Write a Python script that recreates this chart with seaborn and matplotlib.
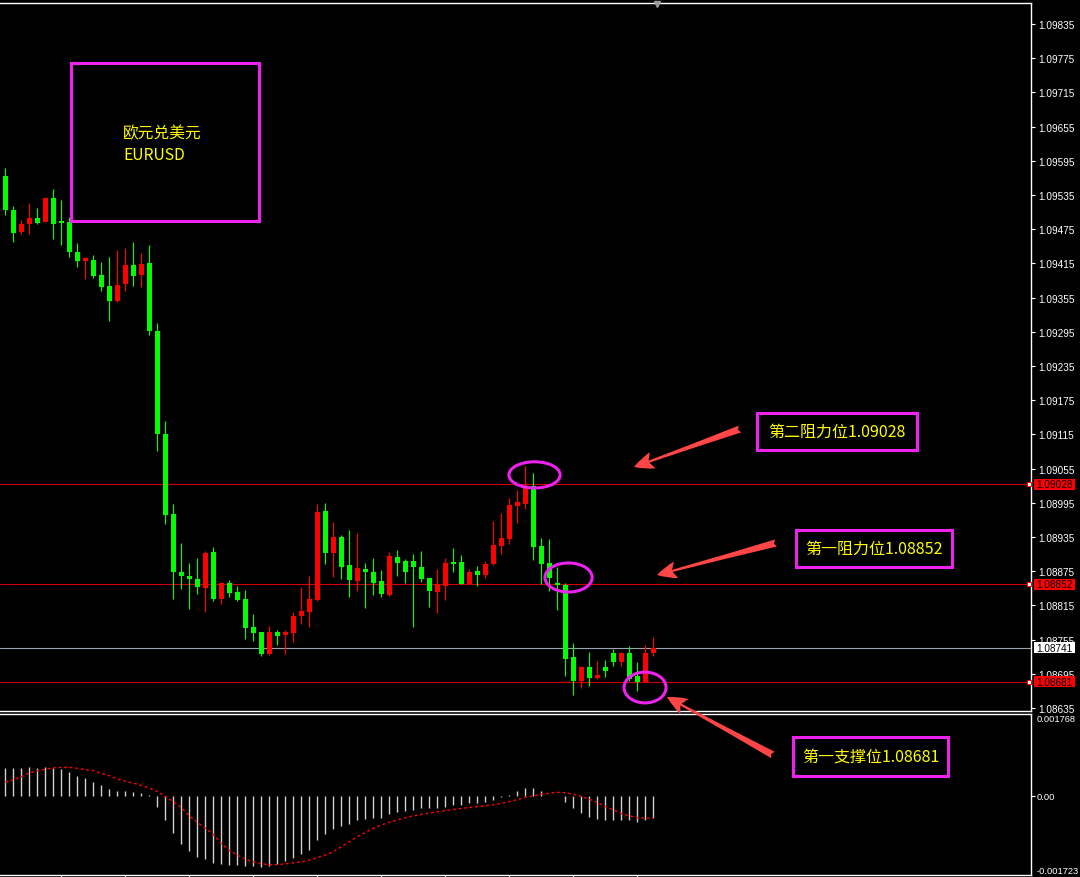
import numpy as np
import pandas as pd
import matplotlib
matplotlib.use("Agg")
import matplotlib.pyplot as plt
import matplotlib.transforms as mtransforms
from matplotlib.patches import Ellipse, Rectangle, FancyArrowPatch
import seaborn as sns

# ---- EURUSD candles (oldest -> newest) ----
opens = [1.09569, 1.09509, 1.09471, 1.09484, 1.09495, 1.09488, 1.09530, 1.09489, 1.09488, 1.09435,
         1.09420, 1.09421, 1.09395, 1.09375, 1.09349, 1.09379, 1.09412, 1.09395, 1.09416, 1.09296,
         1.09116, 1.08975, 1.08874, 1.08867, 1.08861, 1.08846, 1.08909, 1.08826, 1.08854, 1.08839,
         1.08826, 1.08777, 1.08768, 1.08730, 1.08768, 1.08763, 1.08767, 1.08796, 1.08803, 1.08824,
         1.08981, 1.08907, 1.08935, 1.08886, 1.08857, 1.08879, 1.08874, 1.08858, 1.08833, 1.08900,
         1.08893, 1.08893, 1.08882, 1.08863, 1.08839, 1.08849, 1.08892, 1.08891, 1.08853, 1.08875,
         1.08868, 1.08888, 1.08919, 1.08932, 1.08989, 1.08993, 1.09024, 1.08919, 1.08889, 1.08854,
         1.08851, 1.08724, 1.08682, 1.08707, 1.08688, 1.08707, 1.08732, 1.08716, 1.08732, 1.08691,
         1.08681, 1.08732]
highs = [1.09582, 1.09516, 1.09491, 1.09521, 1.09512, 1.09531, 1.09546, 1.09526, 1.09496, 1.09451,
         1.09426, 1.09430, 1.09417, 1.09426, 1.09439, 1.09442, 1.09453, 1.09433, 1.09447, 1.09310,
         1.09139, 1.08993, 1.08924, 1.08889, 1.08899, 1.08910, 1.08917, 1.08856, 1.08860, 1.08849,
         1.08842, 1.08800, 1.08768, 1.08779, 1.08772, 1.08772, 1.08803, 1.08847, 1.08867, 1.08993,
         1.08995, 1.08961, 1.08939, 1.08947, 1.08942, 1.08889, 1.08898, 1.08877, 1.08909, 1.08912,
         1.08896, 1.08905, 1.08910, 1.08863, 1.08879, 1.08898, 1.08916, 1.08903, 1.08879, 1.08884,
         1.08893, 1.08963, 1.08977, 1.09003, 1.09017, 1.09060, 1.09047, 1.08933, 1.08932, 1.08882,
         1.08854, 1.08749, 1.08709, 1.08733, 1.08717, 1.08719, 1.08739, 1.08733, 1.08744, 1.08716,
         1.08746, 1.08760]
lows = [1.09500, 1.09453, 1.09467, 1.09467, 1.09484, 1.09487, 1.09458, 1.09447, 1.09426, 1.09409,
        1.09388, 1.09389, 1.09367, 1.09314, 1.09348, 1.09367, 1.09375, 1.09374, 1.09289, 1.09086,
        1.08958, 1.08826, 1.08844, 1.08809, 1.08835, 1.08803, 1.08823, 1.08817, 1.08830, 1.08823,
        1.08756, 1.08753, 1.08726, 1.08728, 1.08746, 1.08730, 1.08751, 1.08782, 1.08777, 1.08823,
        1.08888, 1.08865, 1.08862, 1.08830, 1.08841, 1.08811, 1.08833, 1.08830, 1.08832, 1.08867,
        1.08854, 1.08777, 1.08856, 1.08812, 1.08802, 1.08824, 1.08874, 1.08852, 1.08852, 1.08849,
        1.08863, 1.08886, 1.08905, 1.08923, 1.08960, 1.08984, 1.08895, 1.08853, 1.08840, 1.08807,
        1.08691, 1.08658, 1.08670, 1.08674, 1.08686, 1.08689, 1.08709, 1.08709, 1.08683, 1.08665,
        1.08680, 1.08726]
closes = [1.09508, 1.09469, 1.09484, 1.09495, 1.09486, 1.09530, 1.09484, 1.09486, 1.09435, 1.09419,
          1.09424, 1.09393, 1.09374, 1.09349, 1.09377, 1.09412, 1.09393, 1.09414, 1.09296, 1.09116,
          1.08974, 1.08874, 1.08867, 1.08862, 1.08847, 1.08907, 1.08826, 1.08854, 1.08837, 1.08824,
          1.08775, 1.08767, 1.08730, 1.08768, 1.08761, 1.08768, 1.08796, 1.08805, 1.08826, 1.08979,
          1.08907, 1.08935, 1.08883, 1.08860, 1.08881, 1.08874, 1.08854, 1.08835, 1.08902, 1.08889,
          1.08874, 1.08882, 1.08861, 1.08840, 1.08853, 1.08889, 1.08888, 1.08853, 1.08874, 1.08868,
          1.08888, 1.08921, 1.08933, 1.08991, 1.08996, 1.09021, 1.08917, 1.08888, 1.08863, 1.08851,
          1.08721, 1.08682, 1.08707, 1.08688, 1.08693, 1.08700, 1.08716, 1.08732, 1.08686, 1.08681,
          1.08732, 1.08741]

# ---- MACD sub-window ----
macd_hist = [0.00060, 0.00060, 0.00060, 0.00062, 0.00060, 0.00062, 0.00060, 0.00057, 0.00051, 0.00042,
             0.00038, 0.00029, 0.00022, 0.00014, 0.00009, 0.00009, 0.00007, 0.00005, 0.00001, -0.00024,
             -0.00052, -0.00081, -0.00105, -0.00120, -0.00133, -0.00137, -0.00146, -0.00148, -0.00150, -0.00150,
             -0.00153, -0.00153, -0.00155, -0.00153, -0.00148, -0.00142, -0.00135, -0.00126, -0.00118, -0.00096,
             -0.00083, -0.00072, -0.00065, -0.00061, -0.00054, -0.00050, -0.00048, -0.00048, -0.00041, -0.00035,
             -0.00033, -0.00031, -0.00028, -0.00028, -0.00028, -0.00024, -0.00020, -0.00020, -0.00017, -0.00017,
             -0.00015, -0.00009, -0.00004, 0.00002, 0.00009, 0.00017, 0.00016, 0.00009, -0.00002, 0.00000,
             -0.00015, -0.00028, -0.00037, -0.00046, -0.00050, -0.00054, -0.00054, -0.00052, -0.00054, -0.00057,
             -0.00052, -0.00048]
macd_signal = [0.00029, 0.00034, 0.00041, 0.00049, 0.00054, 0.00057, 0.00060, 0.00061, 0.00061, 0.00059,
               0.00056, 0.00054, 0.00048, 0.00043, 0.00036, 0.00031, 0.00027, 0.00022, 0.00016, 0.00009,
               -0.00002, -0.00013, -0.00026, -0.00044, -0.00058, -0.00071, -0.00084, -0.00104, -0.00119, -0.00129,
               -0.00138, -0.00144, -0.00148, -0.00150, -0.00150, -0.00148, -0.00146, -0.00144, -0.00140, -0.00135,
               -0.00129, -0.00122, -0.00111, -0.00100, -0.00089, -0.00080, -0.00071, -0.00064, -0.00058, -0.00053,
               -0.00048, -0.00044, -0.00041, -0.00038, -0.00035, -0.00033, -0.00030, -0.00028, -0.00026, -0.00024,
               -0.00022, -0.00020, -0.00017, -0.00013, -0.00009, -0.00004, -0.00001, 0.00003, 0.00005, 0.00007,
               0.00006, 0.00003, -0.00002, -0.00008, -0.00015, -0.00024, -0.00031, -0.00039, -0.00044, -0.00048,
               -0.00049, -0.00049]
macd_range = [-0.001723, 0.001768]
macd_tick_labels = ["0.001768", "0.00", "-0.001723"]

# ---- price scale and marked levels ----
price_ticks = [1.09835, 1.09775, 1.09715, 1.09655, 1.09595, 1.09535, 1.09475, 1.09415, 1.09355,
               1.09295, 1.09235, 1.09175, 1.09115, 1.09055, 1.08995, 1.08935, 1.08875, 1.08815,
               1.08755, 1.08695, 1.08635]
price_range = [1.086298, 1.098719]
level_prices = [1.09028, 1.08852, 1.08681]
level_texts = ["第二阻力位1.09028", "第一阻力位1.08852", "第一支撑位1.08681"]
last_price = 1.08741
title_lines = ["欧元兑美元", "EURUSD"]

# highlighted spots: (candle position, price, width in candles, height in price)
circle_spots = [(66.15, 1.09044, 6.4, 0.00046),
                (70.4, 1.08864, 5.9, 0.00051),
                (79.96, 1.08671, 5.25, 0.00054)]

GREEN = "#00ff00"
RED = "#ff0000"
MAGENTA = "#ee22ee"
YELLOW = "#ffff00"
ARROW = "#ff4646"
SCALE_FONT = 7.2
MACD_FONT = 6.7

sns.set_style("dark", rc={"axes.facecolor": "black", "figure.facecolor": "black",
                          "axes.grid": False})
plt.rcParams["font.family"] = ["Noto Sans CJK SC", "DejaVu Sans"]

W, H = 1080, 878
fig = plt.figure(figsize=(W / 100, H / 100), dpi=100, facecolor="black")


def fig_rect(left, top, right, bottom):
    return [left / W, 1 - bottom / H, (right - left) / W, (bottom - top) / H]


def fx(x):
    return x / W


def fy(y):
    return 1 - y / H


ax = fig.add_axes(fig_rect(0, 4, 1031, 712))
ax2 = fig.add_axes(fig_rect(0, 715, 1031, 876))

df = pd.DataFrame({"open": opens, "high": highs, "low": lows, "close": closes})
df["pos"] = np.arange(len(df))
colors = np.where(df["close"] >= df["open"], RED, GREEN)

# wicks
ax.vlines(df["pos"], df["low"], df["high"], colors=colors, linewidth=0.85, zorder=3)
# bodies (dojis keep a one-pixel body)
min_h = 0.000018
raw_h = (df["close"] - df["open"]).abs()
mid = (df["close"] + df["open"]) / 2
body_h = np.maximum(raw_h, min_h)
body_bottom = np.where(raw_h < min_h, mid - min_h / 2, np.minimum(df["open"], df["close"]))
ax.bar(df["pos"], body_h, bottom=body_bottom, width=0.63, color=colors, linewidth=0, zorder=4)

xlim = (-0.66, 128.2)
ax.set_xlim(*xlim)
ax.set_ylim(*price_range)

# level lines
for p in level_prices:
    ax.axhline(p, color="#d40000", linewidth=0.8, zorder=2)
ax.axhline(last_price, color="#9aa4b0", linewidth=0.8, zorder=2)

# price axis on the right
ax.yaxis.tick_right()
ax.set_yticks(price_ticks)
ax.set_yticklabels([f"{t:.5f}" for t in price_ticks])
ax.tick_params(axis="y", colors="white", labelsize=SCALE_FONT, length=3, width=0.8, pad=2,
               direction="out", right=True, left=False)
for lab in ax.get_yticklabels():
    lab.set_fontfamily("Liberation Sans")
ax.set_xticks([])
for side in ["top", "right", "bottom"]:
    ax.spines[side].set_color("white")
    ax.spines[side].set_linewidth(1.0)
ax.spines["left"].set_visible(False)

# price tags on the scale
trans = mtransforms.blended_transform_factory(ax.transAxes, ax.transData)
tag_h = 11 / 57000
for p, face in [(level_prices[0], RED), (level_prices[1], RED), (level_prices[2], RED),
                (last_price, "white")]:
    ax.add_patch(Rectangle((1034 / 1031, p - tag_h / 2), 41 / 1031, tag_h, transform=trans,
                           facecolor=face, edgecolor="none", clip_on=False, zorder=6))
    ax.text(1054.5 / 1031, p, f"{p:.5f}", transform=trans, ha="center", va="center",
            fontsize=SCALE_FONT, color="black", family="Liberation Sans", clip_on=False, zorder=7)
for p in level_prices:
    ax.plot([1029 / 1031], [p], marker="s", markersize=3.3, markerfacecolor="white",
            markeredgecolor=RED, markeredgewidth=0.7, transform=trans, clip_on=False, zorder=7)

# chart shift marker at the top edge
shift_trans = mtransforms.blended_transform_factory(ax.transData, ax.transAxes)
ax.plot([81.46], [0.998], marker="v", markersize=5, color="#9a9a9a", transform=shift_trans,
        clip_on=False, zorder=8)

# highlighted turning points
for cx, cy, w, h in circle_spots:
    ax.add_patch(Ellipse((cx, cy), w, h, fill=False, edgecolor=MAGENTA, linewidth=2.2,
                         zorder=9, clip_on=False))

# ---- MACD panel ----
ax2.vlines(df["pos"], 0, macd_hist, colors="#d0d0d0", linewidth=1.0, zorder=3)
sns.lineplot(x=df["pos"], y=macd_signal, ax=ax2, color=RED, linewidth=1.0, zorder=4)
for line in ax2.get_lines():
    line.set_linestyle((0, (2, 2)))
ax2.set_xlim(*xlim)
ax2.set_ylim(*macd_range)
ax2.set_xlabel("")
ax2.set_ylabel("")
ax2.yaxis.tick_right()
ax2.set_yticks([macd_range[1], 0.0, macd_range[0]])
ax2.set_yticklabels(macd_tick_labels)
ax2.tick_params(axis="y", colors="white", labelsize=MACD_FONT, length=3, width=0.8, pad=1,
                direction="out", right=True, left=False)
ylabs = ax2.get_yticklabels()
for lab in ylabs:
    lab.set_fontfamily("Liberation Sans")
ylabs[0].set_verticalalignment("top")
ylabs[2].set_verticalalignment("bottom")
yticks = ax2.yaxis.get_major_ticks()
yticks[0].tick2line.set_visible(False)
yticks[2].tick2line.set_visible(False)
ax2.set_xticks(list(range(7, len(df), 8)))
ax2.set_xticklabels([])
ax2.tick_params(axis="x", colors="white", length=3, width=0.8, direction="out", bottom=True)
for side in ["top", "right", "bottom"]:
    ax2.spines[side].set_color("white")
    ax2.spines[side].set_linewidth(1.0)
ax2.spines["left"].set_visible(False)

# ---- title box ----
fig.add_artist(Rectangle((fx(71), fy(222)), fx(259) - fx(71), fy(64) - fy(222),
                         transform=fig.transFigure, fill=False, edgecolor=MAGENTA,
                         linewidth=2.2, zorder=10))
fig.text(fx(123), fy(134), title_lines[0], color=YELLOW, fontsize=11.3, ha="left", va="center")
fig.text(fx(123), fy(156), title_lines[1], color=YELLOW, fontsize=11.3, ha="left", va="center")

# ---- level call-outs with arrows ----
boxes = [(757, 414, 917, 451), (796, 531, 952, 568), (793, 738, 948, 777)]
arrows = [((740, 430), (634, 468)), ((776, 544), (657, 576)), ((773, 756), (667, 698))]
for (l, t, r, b), txt in zip(boxes, level_texts):
    fig.add_artist(Rectangle((fx(l), fy(b)), fx(r) - fx(l), fy(t) - fy(b),
                             transform=fig.transFigure, facecolor="black", edgecolor=MAGENTA,
                             linewidth=2.2, zorder=10))
    fig.text(fx((l + r) / 2), fy((t + b) / 2), txt, color=YELLOW, fontsize=11.5,
             ha="center", va="center", zorder=11)
for (tx, ty), (hx, hy) in arrows:
    fig.add_artist(FancyArrowPatch((fx(tx), fy(ty)), (fx(hx), fy(hy)), transform=fig.transFigure,
                                   arrowstyle="fancy,head_length=1.1,head_width=0.95,tail_width=0.4",
                                   mutation_scale=13, facecolor=ARROW, edgecolor="none",
                                   shrinkA=0, shrinkB=0, zorder=10))

fig.savefig("out.png", dpi=100, facecolor="black")
